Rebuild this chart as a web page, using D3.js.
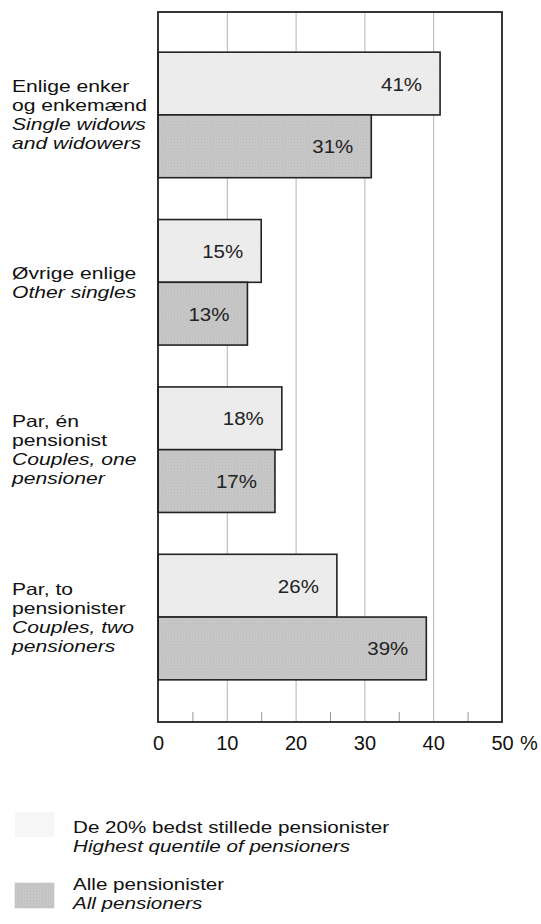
<!DOCTYPE html>
<html>
<head>
<meta charset="utf-8">
<script src="https://cdn.jsdelivr.net/npm/d3@7/dist/d3.min.js"></script>
<style>
  html, body { margin: 0; padding: 0; background: #ffffff; }
  svg { display: block; font-family: "Liberation Sans", Arial, Helvetica, sans-serif; }
</style>
</head>
<body>
<svg id="chart" width="541" height="924"></svg>
<script>
// ---- data ----
const categoryIds = ["widows", "otherSingles", "coupleOne", "coupleTwo"];
const labelsDanish = [["Enlige enker", "og enkemænd"], ["Øvrige enlige"], ["Par, én", "pensionist"], ["Par, to", "pensionister"]];
const labelsEnglish = [["Single widows", "and widowers"], ["Other singles"], ["Couples, one", "pensioner"], ["Couples, two", "pensioners"]];
const seriesNames = ["highest", "all"];
const highestQuintile = [41, 15, 18, 26];
const allPensioners = [31, 13, 17, 39];
const xTickValues = [0, 10, 20, 30, 40, 50];
const gridValues = [10, 20, 30, 40];
const minorTickValues = [5, 15, 25, 35, 45];
const legendDanish = ["De 20% bedst stillede pensionister", "Alle pensionister"];
const legendEnglish = ["Highest quentile of pensioners", "All pensioners"];

// ---- layout ----
const plotLeft = 158, plotRight = 502, plotTop = 12, plotBottom = 722;

const svg = d3.select("#chart");
const defs = svg.append("defs");
function stipple(id, base, dot) {
  const p = defs.append("pattern").attr("id", id).attr("patternUnits", "userSpaceOnUse")
    .attr("width", 3).attr("height", 3);
  p.append("rect").attr("width", 3).attr("height", 3).attr("fill", base);
  p.append("rect").attr("x", 0).attr("y", 0).attr("width", 1).attr("height", 1).attr("fill", dot);
  p.append("rect").attr("x", 1.5).attr("y", 1.5).attr("width", 1).attr("height", 1).attr("fill", dot);
}
stipple("patLight", "#efefef", "#e2e2e2");
stipple("patDark", "#cacaca", "#b4b4b4");
const fills = { highest: "url(#patLight)", all: "url(#patDark)" };

const x = d3.scaleLinear().domain([0, 50]).range([plotLeft, plotRight]);
const y = d3.scaleBand().domain(categoryIds).range([plotTop, plotBottom - 2])
  .paddingInner(0.25).paddingOuter(0.24);
const ySub = d3.scaleBand().domain(seriesNames).range([0, y.bandwidth()]);

// gridlines
const grid = svg.append("g").attr("transform", `translate(0,${plotBottom})`)
  .call(d3.axisBottom(x).tickValues(gridValues).tickSize(-(plotBottom - plotTop)).tickFormat(""));
grid.select(".domain").remove();
grid.selectAll("line").attr("stroke", "#b4b4b4").attr("stroke-width", 1);

// minor ticks at bottom
const minor = svg.append("g").attr("transform", `translate(0,${plotBottom})`)
  .call(d3.axisBottom(x).tickValues(minorTickValues).tickSize(-10).tickFormat(""));
minor.select(".domain").remove();
minor.selectAll("line").attr("stroke", "#9a9a9a").attr("stroke-width", 1);

// bars
const rows = categoryIds.map((id, i) => ({ id, values: [
  { key: "highest", value: highestQuintile[i] },
  { key: "all", value: allPensioners[i] }
]}));

const groups = svg.append("g").selectAll("g.grp").data(rows).join("g")
  .attr("class", "grp")
  .attr("transform", d => `translate(0,${y(d.id)})`);

groups.selectAll("rect").data(d => d.values).join("rect")
  .attr("x", x(0))
  .attr("y", d => ySub(d.key))
  .attr("width", d => x(d.value) - x(0))
  .attr("height", ySub.bandwidth())
  .attr("fill", d => fills[d.key])
  .attr("stroke", "#222")
  .attr("stroke-width", 1.6);

groups.selectAll("text.val").data(d => d.values).join("text")
  .attr("class", "val")
  .attr("transform", d => `translate(${x(d.value) - 18},${ySub(d.key) + ySub.bandwidth() / 2 + 7}) scale(1.08,1)`)
  .attr("text-anchor", "end")
  .attr("font-size", 19)
  .attr("fill", "#222")
  .text(d => d.value + "%");

// frame
svg.append("rect")
  .attr("x", plotLeft).attr("y", plotTop)
  .attr("width", plotRight - plotLeft).attr("height", plotBottom - plotTop)
  .attr("fill", "none").attr("stroke", "#222").attr("stroke-width", 1.8);

// x axis labels
const xAxis = svg.append("g").attr("transform", `translate(0,${plotBottom})`)
  .call(d3.axisBottom(x).tickValues(xTickValues).tickSize(0).tickFormat(d3.format("d")));
xAxis.select(".domain").remove();
xAxis.selectAll("text").attr("y", 28).attr("dy", null)
  .attr("font-size", 20).attr("font-family", "Liberation Sans, Arial, sans-serif").attr("fill", "#111");
svg.append("text").attr("x", x(50) + 18).attr("y", plotBottom + 28)
  .attr("font-size", 20).attr("fill", "#111").text("%");

// category labels (slightly wide type, tight leading as in the print)
const lineH = 19, labelSize = 16.5, labelStretch = 1.28;
categoryIds.forEach((id, i) => {
  const lines = labelsDanish[i].map(t => ({ t, it: false }))
    .concat(labelsEnglish[i].map(t => ({ t, it: true })));
  const cy = y(id) + y.bandwidth() / 2;
  const n = lines.length;
  svg.append("g").selectAll("text").data(lines).join("text")
    .attr("transform", (d, k) => `translate(12,${cy + (k - (n - 1) / 2) * lineH + 6}) scale(${labelStretch},1)`)
    .attr("font-size", labelSize)
    .attr("font-style", d => d.it ? "italic" : "normal")
    .attr("fill", "#111")
    .text(d => d.t);
});

// legend
const legendRectY = [812, 883];
const legendBase = [833, 890];
const legendFill = ["#f6f6f6", "url(#patDark)"];
seriesNames.forEach((s, i) => {
  svg.append("rect").attr("x", 15).attr("y", legendRectY[i]).attr("width", 39).attr("height", 25)
    .attr("fill", legendFill[i]).attr("stroke", i ? "#c4c4c4" : "none").attr("stroke-width", 0.6);
  svg.append("text").attr("transform", `translate(73,${legendBase[i]}) scale(1.25,1)`)
    .attr("font-size", labelSize).attr("fill", "#111").text(legendDanish[i]);
  svg.append("text").attr("transform", `translate(73,${legendBase[i] + 19}) scale(1.25,1)`)
    .attr("font-size", labelSize).attr("font-style", "italic").attr("fill", "#111").text(legendEnglish[i]);
});
</script>
</body>
</html>
